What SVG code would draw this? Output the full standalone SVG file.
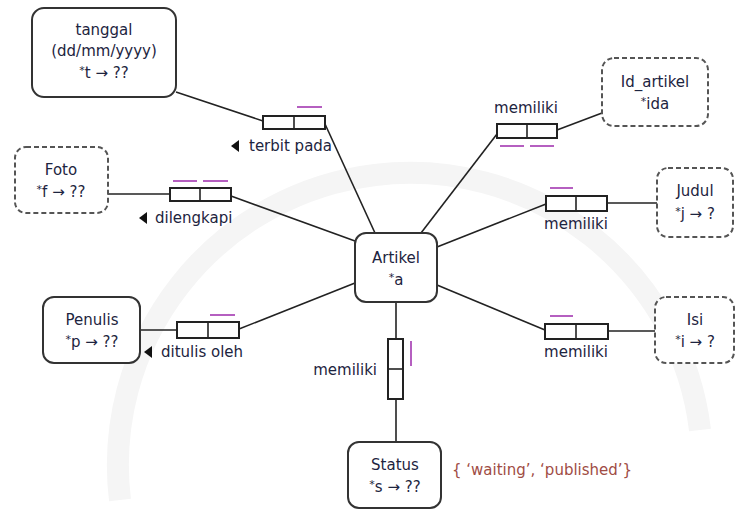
<svg xmlns="http://www.w3.org/2000/svg" width="736" height="511" viewBox="0 0 736 511">
<style>
.ent{fill:#fff;stroke:#333;stroke-width:2}
.val{fill:#fff;stroke:#555;stroke-width:2;stroke-dasharray:5 3}
.role{fill:#fff;stroke:#222;stroke-width:2}
.ln{stroke:#222;stroke-width:1.6;fill:none}
.uc{stroke:#b55fc0;stroke-width:2}
text{font-family:"DejaVu Sans","Liberation Sans",sans-serif;font-size:15px;fill:#1d2440}
.c{text-anchor:middle}
.sup{font-size:11px}
.enum{fill:#a04c44}
</style>
<g id="watermark">
<path d="M 120 500 A 290 290 0 0 1 700 430" fill="none" stroke="#f5f5f5" stroke-width="22"/>
</g>
<g id="connectors">
<line class="ln" x1="176" y1="92" x2="263" y2="121"/>
<line class="ln" x1="325" y1="124" x2="375" y2="233"/>
<line class="ln" x1="108" y1="194" x2="170" y2="194"/>
<line class="ln" x1="231" y1="196" x2="355" y2="241"/>
<line class="ln" x1="421" y1="233" x2="497" y2="134"/>
<line class="ln" x1="557" y1="130" x2="602" y2="113"/>
<line class="ln" x1="437" y1="247" x2="546" y2="204"/>
<line class="ln" x1="607" y1="203" x2="657" y2="203"/>
<line class="ln" x1="140" y1="330" x2="177" y2="330"/>
<line class="ln" x1="239" y1="329" x2="355" y2="283"/>
<line class="ln" x1="437" y1="285" x2="545" y2="330"/>
<line class="ln" x1="608" y1="331" x2="655" y2="331"/>
<line class="ln" x1="396" y1="302" x2="396" y2="338"/>
<line class="ln" x1="396" y1="399" x2="396" y2="442"/>
</g>
<g id="role-terbit">
<rect class="role" x="263" y="116" width="62" height="13"/>
<line class="ln" x1="294" y1="116" x2="294" y2="129"/>
<line class="uc" x1="297" y1="107" x2="322" y2="107"/>
<path d="M231 146 L239 140 L239 152 Z" fill="#111"/>
<text x="249" y="151">terbit pada</text>
</g>
<g id="role-dilengkapi">
<rect class="role" x="170" y="188" width="61" height="13"/>
<line class="ln" x1="200" y1="188" x2="200" y2="201"/>
<line class="uc" x1="173" y1="181" x2="197" y2="181"/>
<line class="uc" x1="203" y1="181" x2="228" y2="181"/>
<path d="M139 218 L147 212 L147 224 Z" fill="#111"/>
<text x="155" y="223">dilengkapi</text>
</g>
<g id="role-id">
<rect class="role" x="497" y="124" width="60" height="14"/>
<line class="ln" x1="527" y1="124" x2="527" y2="138"/>
<line class="uc" x1="500" y1="146" x2="524" y2="146"/>
<line class="uc" x1="530" y1="146" x2="554" y2="146"/>
<text class="c" x="526" y="113">memiliki</text>
</g>
<g id="role-judul">
<rect class="role" x="546" y="196" width="61" height="15"/>
<line class="ln" x1="576" y1="196" x2="576" y2="211"/>
<line class="uc" x1="550" y1="188" x2="573" y2="188"/>
<text class="c" x="576" y="229">memiliki</text>
</g>
<g id="role-penulis">
<rect class="role" x="177" y="322" width="62" height="16"/>
<line class="ln" x1="208" y1="322" x2="208" y2="338"/>
<line class="uc" x1="210" y1="315" x2="235" y2="315"/>
<path d="M144 352 L152 346 L152 358 Z" fill="#111"/>
<text x="161" y="357">ditulis oleh</text>
</g>
<g id="role-isi">
<rect class="role" x="545" y="324" width="63" height="15"/>
<line class="ln" x1="576" y1="324" x2="576" y2="339"/>
<line class="uc" x1="550" y1="316" x2="573" y2="316"/>
<text class="c" x="576" y="357">memiliki</text>
</g>
<g id="role-status">
<rect class="role" x="388" y="339" width="15" height="60"/>
<line class="ln" x1="388" y1="369" x2="403" y2="369"/>
<line class="uc" x1="411" y1="341" x2="411" y2="366"/>
<text x="377" y="375" text-anchor="end">memiliki</text>
</g>
<g id="tanggal">
<rect class="ent" x="32" y="8" width="144" height="89" rx="12"/>
<text class="c" x="104" y="35">tanggal</text>
<text class="c" x="104" y="56">(dd/mm/yyyy)</text>
<text class="c" x="104" y="78"><tspan class="sup" dy="-4">*</tspan><tspan dy="4">t → ??</tspan></text>
</g>
<g id="foto">
<rect class="val" x="15" y="147" width="93" height="66" rx="11"/>
<text class="c" x="61" y="175">Foto</text>
<text class="c" x="61" y="197"><tspan class="sup" dy="-4">*</tspan><tspan dy="4">f → ??</tspan></text>
</g>
<g id="artikel">
<rect class="ent" x="355" y="233" width="82" height="69" rx="11"/>
<text class="c" x="396" y="263">Artikel</text>
<text class="c" x="396" y="285"><tspan class="sup" dy="-4">*</tspan><tspan dy="4">a</tspan></text>
</g>
<g id="id-artikel">
<rect class="val" x="602" y="58" width="106" height="68" rx="12"/>
<text class="c" x="655" y="87">Id_artikel</text>
<text class="c" x="655" y="109"><tspan class="sup" dy="-4">*</tspan><tspan dy="4">ida</tspan></text>
</g>
<g id="judul">
<rect class="val" x="657" y="168" width="76" height="69" rx="11"/>
<text class="c" x="695" y="196">Judul</text>
<text class="c" x="695" y="219"><tspan class="sup" dy="-4">*</tspan><tspan dy="4">j → ?</tspan></text>
</g>
<g id="penulis">
<rect class="ent" x="43" y="297" width="97" height="66" rx="11"/>
<text class="c" x="92" y="325">Penulis</text>
<text class="c" x="92" y="347"><tspan class="sup" dy="-4">*</tspan><tspan dy="4">p → ??</tspan></text>
</g>
<g id="isi">
<rect class="val" x="655" y="297" width="79" height="66" rx="11"/>
<text class="c" x="695" y="325">Isi</text>
<text class="c" x="695" y="347"><tspan class="sup" dy="-4">*</tspan><tspan dy="4">i → ?</tspan></text>
</g>
<g id="status">
<rect class="ent" x="348" y="442" width="93" height="66" rx="11"/>
<text class="c" x="395" y="470">Status</text>
<text class="c" x="395" y="492"><tspan class="sup" dy="-4">*</tspan><tspan dy="4">s → ??</tspan></text>
<text class="enum" x="452" y="475">{ ‘waiting’, ‘published’}</text>
</g>
</svg>
